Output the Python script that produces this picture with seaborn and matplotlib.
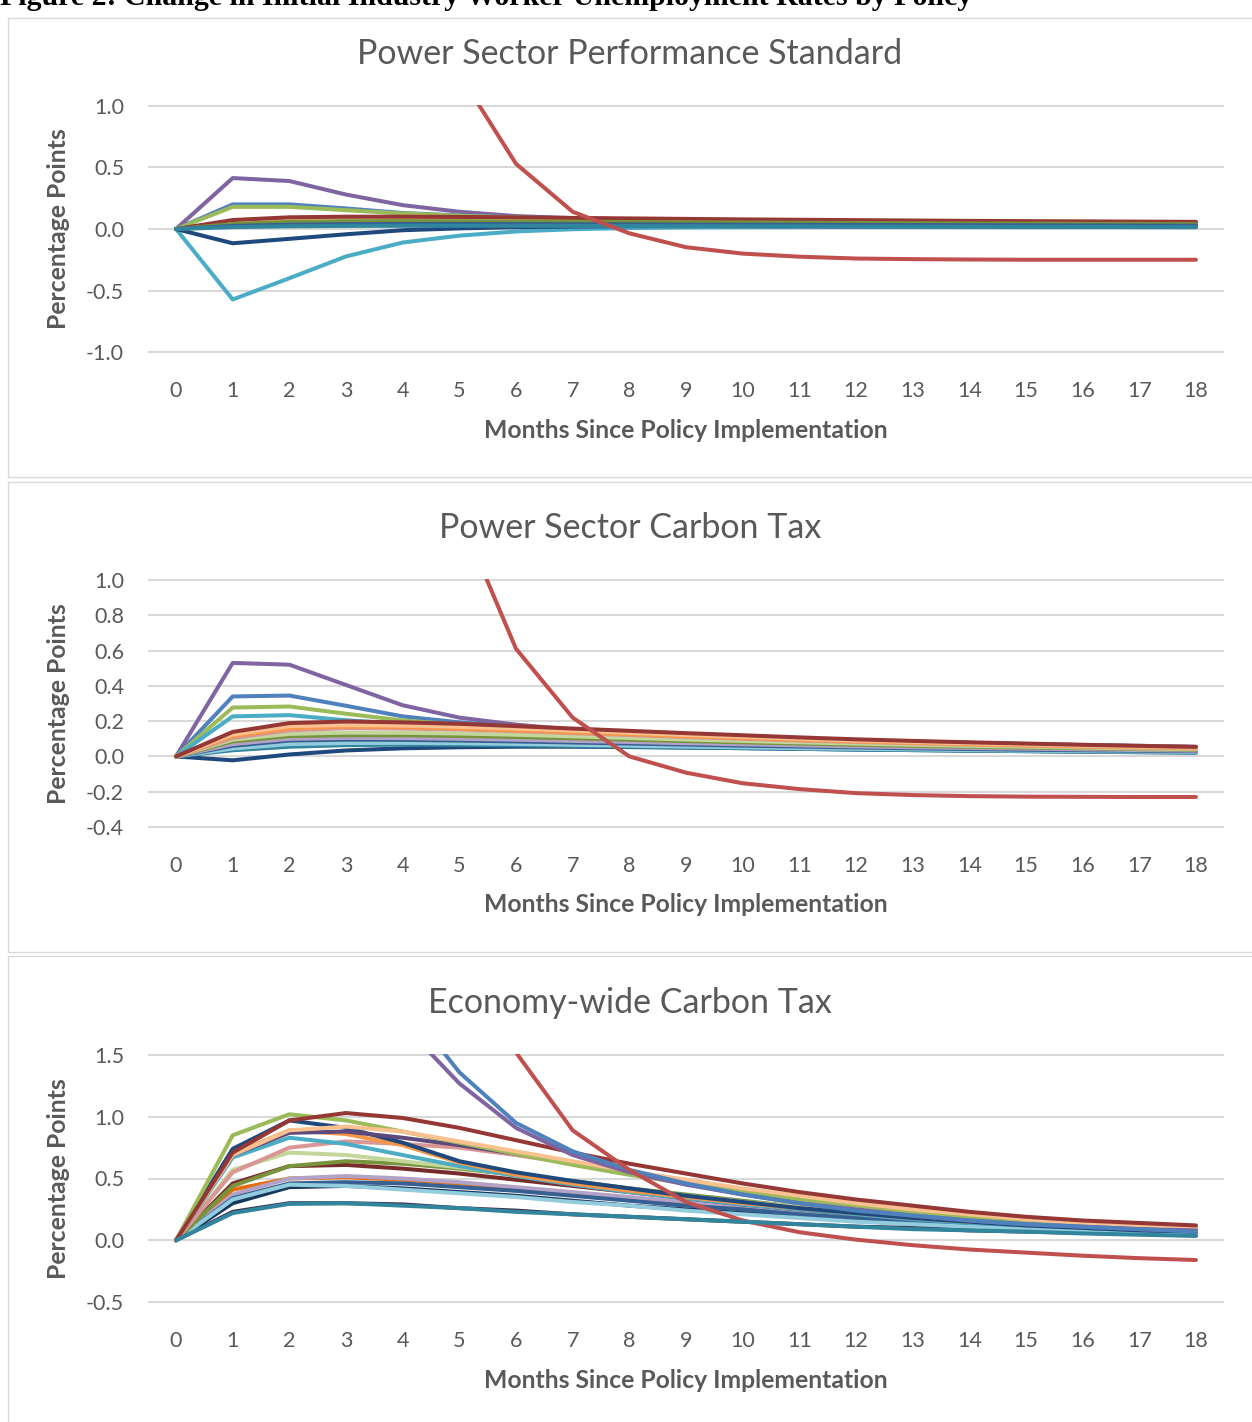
import numpy as np
import pandas as pd
import matplotlib
matplotlib.use("Agg")
import matplotlib.pyplot as plt
import seaborn as sns
from matplotlib.patches import Rectangle

nan = np.nan
months = list(range(19))
month_labels = [str(m) for m in months]

caption = "Figure 2: Change in Initial Industry Worker Unemployment Rates by Policy"
titles = ["Power Sector Performance Standard", "Power Sector Carbon Tax", "Economy-wide Carbon Tax"]
x_label = "Months Since Policy Implementation"
y_label = "Percentage Points"

# ---------------- Panel 1: Power Sector Performance Standard ----------------
pps_purple = [0, 0.414, 0.39, 0.28, 0.194, 0.14, 0.105, 0.088, 0.078, 0.072, 0.068, 0.064, 0.061, 0.058, 0.055, 0.053, 0.051, 0.049, 0.047]
pps_blue = [0, 0.20, 0.20, 0.167, 0.13, 0.11, 0.094, 0.083, 0.075, 0.069, 0.064, 0.06, 0.056, 0.053, 0.05, 0.048, 0.046, 0.044, 0.042]
pps_green = [0, 0.18, 0.18, 0.153, 0.126, 0.108, 0.094, 0.083, 0.075, 0.068, 0.063, 0.059, 0.055, 0.052, 0.049, 0.047, 0.045, 0.043, 0.041]
pps_ltorange = [0, 0.055, 0.075, 0.08, 0.08, 0.078, 0.076, 0.073, 0.07, 0.067, 0.064, 0.061, 0.058, 0.056, 0.054, 0.052, 0.05, 0.048, 0.047]
pps_olive = [0, 0.04, 0.058, 0.063, 0.064, 0.063, 0.061, 0.059, 0.057, 0.055, 0.053, 0.051, 0.049, 0.047, 0.045, 0.044, 0.042, 0.041, 0.04]
pps_blue2 = [0, 0.025, 0.035, 0.04, 0.041, 0.041, 0.04, 0.039, 0.038, 0.036, 0.035, 0.034, 0.033, 0.032, 0.031, 0.03, 0.029, 0.028, 0.027]
pps_darkred = [0, 0.073, 0.095, 0.10, 0.10, 0.098, 0.095, 0.09, 0.086, 0.082, 0.078, 0.075, 0.072, 0.069, 0.066, 0.064, 0.062, 0.06, 0.058]
pps_teal = [0, 0.015, 0.022, 0.025, 0.026, 0.026, 0.026, 0.025, 0.024, 0.023, 0.022, 0.021, 0.02, 0.019, 0.018, 0.017, 0.017, 0.016, 0.015]
pps_darkblue = [0, -0.116, -0.08, -0.043, -0.01, 0.005, 0.015, 0.02, 0.023, 0.024, 0.024, 0.024, 0.023, 0.023, 0.022, 0.022, 0.021, 0.021, 0.02]
pps_aqua = [0, -0.573, -0.40, -0.223, -0.11, -0.054, -0.02, -0.002, 0.008, 0.013, 0.015, 0.016, 0.016, 0.016, 0.016, 0.015, 0.015, 0.015, 0.015]
pps_red = [nan, nan, nan, nan, 2.5, 1.26, 0.53, 0.14, -0.035, -0.148, -0.2, -0.225, -0.24, -0.245, -0.248, -0.25, -0.25, -0.25, -0.25]

# ---------------- Panel 2: Power Sector Carbon Tax ----------------
pct_purple = [0, 0.53, 0.52, 0.405, 0.29, 0.22, 0.18, 0.152, 0.133, 0.12, 0.108, 0.098, 0.089, 0.082, 0.075, 0.07, 0.065, 0.06, 0.055]
pct_blue = [0, 0.34, 0.345, 0.287, 0.227, 0.193, 0.17, 0.152, 0.138, 0.125, 0.113, 0.102, 0.092, 0.084, 0.077, 0.07, 0.064, 0.058, 0.053]
pct_green = [0, 0.277, 0.283, 0.242, 0.204, 0.18, 0.163, 0.148, 0.135, 0.123, 0.112, 0.101, 0.092, 0.084, 0.077, 0.07, 0.064, 0.058, 0.053]
pct_aqua = [0, 0.227, 0.234, 0.205, 0.185, 0.168, 0.153, 0.14, 0.128, 0.116, 0.105, 0.095, 0.086, 0.078, 0.071, 0.064, 0.058, 0.052, 0.047]
pct_teal = [0, 0.035, 0.055, 0.064, 0.067, 0.066, 0.063, 0.059, 0.055, 0.051, 0.047, 0.043, 0.039, 0.036, 0.033, 0.03, 0.027, 0.025, 0.022]
pct_ltaqua = [0, 0.045, 0.07, 0.076, 0.077, 0.075, 0.071, 0.066, 0.061, 0.056, 0.052, 0.047, 0.043, 0.04, 0.036, 0.033, 0.03, 0.028, 0.025]
pct_blue2 = [0, 0.06, 0.09, 0.095, 0.094, 0.09, 0.085, 0.079, 0.073, 0.067, 0.061, 0.056, 0.051, 0.046, 0.042, 0.038, 0.035, 0.032, 0.029]
pct_ltpurple = [0, 0.07, 0.10, 0.105, 0.104, 0.10, 0.095, 0.088, 0.082, 0.075, 0.069, 0.063, 0.057, 0.052, 0.048, 0.044, 0.04, 0.036, 0.033]
pct_olive = [0, 0.085, 0.115, 0.12, 0.12, 0.116, 0.11, 0.103, 0.095, 0.087, 0.08, 0.073, 0.066, 0.06, 0.055, 0.05, 0.046, 0.042, 0.038]
pct_ltgreen = [0, 0.095, 0.128, 0.135, 0.134, 0.13, 0.123, 0.114, 0.105, 0.096, 0.088, 0.08, 0.073, 0.066, 0.06, 0.055, 0.05, 0.045, 0.041]
pct_pink = [0, 0.105, 0.148, 0.16, 0.158, 0.152, 0.143, 0.132, 0.121, 0.11, 0.10, 0.09, 0.082, 0.074, 0.067, 0.061, 0.055, 0.05, 0.045]
pct_orange = [0, 0.115, 0.16, 0.17, 0.166, 0.158, 0.148, 0.137, 0.126, 0.115, 0.104, 0.094, 0.085, 0.077, 0.07, 0.063, 0.057, 0.052, 0.047]
pct_ltorange = [0, 0.124, 0.172, 0.178, 0.175, 0.168, 0.158, 0.146, 0.134, 0.122, 0.111, 0.10, 0.09, 0.082, 0.074, 0.067, 0.061, 0.055, 0.05]
pct_darkred = [0, 0.139, 0.189, 0.198, 0.193, 0.185, 0.172, 0.158, 0.145, 0.132, 0.12, 0.108, 0.097, 0.088, 0.08, 0.073, 0.066, 0.06, 0.054]
pct_darkblue = [0, -0.022, 0.011, 0.034, 0.046, 0.052, 0.055, 0.055, 0.053, 0.05, 0.047, 0.043, 0.039, 0.036, 0.033, 0.03, 0.027, 0.024, 0.022]
pct_red = [nan, nan, nan, nan, 2.6, 1.37, 0.61, 0.22, 0.0, -0.092, -0.152, -0.185, -0.208, -0.219, -0.225, -0.228, -0.229, -0.23, -0.23]

# ---------------- Panel 3: Economy-wide Carbon Tax ----------------
ect_purple2 = [0, 0.23, 0.30, 0.30, 0.29, 0.26, 0.24, 0.21, 0.19, 0.17, 0.15, 0.13, 0.11, 0.10, 0.08, 0.07, 0.06, 0.05, 0.04]
ect_teal = [0, 0.22, 0.295, 0.30, 0.28, 0.26, 0.23, 0.21, 0.19, 0.17, 0.15, 0.13, 0.11, 0.09, 0.08, 0.07, 0.055, 0.045, 0.035]
ect_darkblue2 = [0, 0.30, 0.43, 0.44, 0.42, 0.39, 0.36, 0.32, 0.28, 0.25, 0.22, 0.19, 0.16, 0.13, 0.11, 0.09, 0.08, 0.06, 0.05]
ect_ltaqua = [0, 0.33, 0.45, 0.44, 0.41, 0.38, 0.35, 0.31, 0.28, 0.24, 0.21, 0.18, 0.15, 0.13, 0.11, 0.09, 0.08, 0.06, 0.05]
ect_blue2 = [0, 0.34, 0.46, 0.47, 0.46, 0.43, 0.40, 0.36, 0.32, 0.28, 0.25, 0.21, 0.18, 0.15, 0.13, 0.11, 0.09, 0.07, 0.06]
ect_ltpurple = [0, 0.37, 0.50, 0.52, 0.50, 0.47, 0.43, 0.39, 0.35, 0.31, 0.27, 0.23, 0.19, 0.16, 0.14, 0.12, 0.10, 0.08, 0.07]
ect_dkorange = [0, 0.41, 0.50, 0.51, 0.49, 0.46, 0.42, 0.38, 0.33, 0.29, 0.25, 0.21, 0.18, 0.15, 0.13, 0.11, 0.09, 0.08, 0.07]
ect_darkred2 = [0, 0.46, 0.60, 0.61, 0.58, 0.54, 0.49, 0.44, 0.39, 0.34, 0.29, 0.25, 0.21, 0.18, 0.15, 0.13, 0.11, 0.09, 0.08]
ect_olive = [0, 0.44, 0.60, 0.64, 0.62, 0.58, 0.53, 0.48, 0.42, 0.37, 0.32, 0.27, 0.23, 0.19, 0.16, 0.14, 0.12, 0.10, 0.09]
ect_ltgreen = [0, 0.57, 0.71, 0.69, 0.64, 0.59, 0.53, 0.47, 0.41, 0.36, 0.31, 0.27, 0.23, 0.19, 0.16, 0.13, 0.11, 0.10, 0.09]
ect_pink = [0, 0.55, 0.75, 0.80, 0.78, 0.75, 0.69, 0.62, 0.55, 0.48, 0.41, 0.35, 0.29, 0.24, 0.20, 0.17, 0.14, 0.12, 0.10]
ect_aqua = [0, 0.67, 0.83, 0.78, 0.69, 0.60, 0.52, 0.45, 0.39, 0.34, 0.29, 0.25, 0.21, 0.17, 0.14, 0.12, 0.10, 0.08, 0.07]
ect_orange = [0, 0.70, 0.89, 0.86, 0.77, 0.63, 0.53, 0.46, 0.40, 0.35, 0.30, 0.26, 0.22, 0.18, 0.15, 0.13, 0.11, 0.09, 0.08]
ect_darkblue = [0, 0.74, 0.97, 0.91, 0.79, 0.64, 0.55, 0.48, 0.42, 0.36, 0.31, 0.26, 0.22, 0.18, 0.15, 0.12, 0.10, 0.08, 0.07]
ect_darkpurple = [0, 0.69, 0.87, 0.88, 0.83, 0.77, 0.70, 0.62, 0.55, 0.48, 0.41, 0.35, 0.29, 0.24, 0.20, 0.17, 0.14, 0.12, 0.10]
ect_green = [0, 0.85, 1.02, 0.97, 0.88, 0.79, 0.70, 0.61, 0.53, 0.46, 0.39, 0.33, 0.28, 0.23, 0.19, 0.16, 0.13, 0.11, 0.09]
ect_ltorange = [0, 0.69, 0.89, 0.92, 0.88, 0.80, 0.72, 0.64, 0.56, 0.49, 0.42, 0.36, 0.30, 0.25, 0.21, 0.17, 0.14, 0.12, 0.107]
ect_darkred = [0, 0.71, 0.97, 1.03, 0.99, 0.91, 0.81, 0.71, 0.62, 0.54, 0.46, 0.39, 0.33, 0.28, 0.23, 0.19, 0.16, 0.14, 0.12]
ect_purple = [nan, nan, nan, nan, 1.75, 1.27, 0.91, 0.69, 0.55, 0.45, 0.37, 0.30, 0.25, 0.20, 0.16, 0.13, 0.11, 0.09, 0.08]
ect_blue = [nan, nan, nan, nan, 1.94, 1.36, 0.95, 0.72, 0.57, 0.46, 0.37, 0.30, 0.24, 0.20, 0.16, 0.13, 0.11, 0.09, 0.07]
ect_red = [nan, nan, nan, nan, nan, 3.0, 1.52, 0.89, 0.57, 0.31, 0.16, 0.065, 0.005, -0.04, -0.075, -0.10, -0.125, -0.145, -0.16]

# axis ticks per panel
p1_yticks = [-1.0, -0.5, 0.0, 0.5, 1.0]
p2_yticks = [-0.4, -0.2, 0.0, 0.2, 0.4, 0.6, 0.8, 1.0]
p3_yticks = [-0.5, 0.0, 0.5, 1.0, 1.5]

# colours (Excel palette)
C = {
    "purple": "#8064A2", "blue": "#4F81BD", "green": "#9BBB59", "red": "#C0504D",
    "aqua": "#4BACC6", "orange": "#F79646", "darkred": "#953735", "darkblue": "#1F497D",
    "ltorange": "#FAC090", "olive": "#77933C", "blue2": "#376092", "teal": "#31859C",
    "pink": "#D99694", "ltgreen": "#C3D69B", "ltpurple": "#B3A2C7", "ltaqua": "#93CDDD",
    "darkpurple": "#5F497A", "dkorange": "#E46C0A", "darkred2": "#772C2A",
    "darkblue2": "#17375E", "purple2": "#403152",
}

panel1 = [("aqua", pps_aqua), ("darkblue", pps_darkblue), ("purple", pps_purple), ("blue", pps_blue),
          ("green", pps_green), ("ltorange", pps_ltorange), ("darkred", pps_darkred), ("olive", pps_olive),
          ("blue2", pps_blue2), ("teal", pps_teal), ("red", pps_red)]
panel2 = [("purple", pct_purple), ("blue", pct_blue), ("green", pct_green), ("aqua", pct_aqua),
          ("darkblue", pct_darkblue), ("teal", pct_teal), ("ltaqua", pct_ltaqua), ("blue2", pct_blue2),
          ("ltpurple", pct_ltpurple), ("olive", pct_olive), ("ltgreen", pct_ltgreen), ("pink", pct_pink),
          ("orange", pct_orange), ("ltorange", pct_ltorange), ("darkred", pct_darkred), ("red", pct_red)]
panel3 = [("dkorange", ect_dkorange), ("purple2", ect_purple2), ("darkblue2", ect_darkblue2),
          ("ltpurple", ect_ltpurple), ("blue2", ect_blue2), ("ltaqua", ect_ltaqua), ("darkred2", ect_darkred2),
          ("olive", ect_olive), ("ltgreen", ect_ltgreen), ("pink", ect_pink), ("aqua", ect_aqua),
          ("orange", ect_orange), ("darkblue", ect_darkblue), ("darkpurple", ect_darkpurple),
          ("green", ect_green), ("ltorange", ect_ltorange), ("darkred", ect_darkred),
          ("purple", ect_purple), ("blue", ect_blue), ("red", ect_red), ("teal", ect_teal)]


def to_frame(series):
    rows = []
    for name, vals in series:
        for m, v in zip(months, vals):
            rows.append({"series": name, "month": m, "value": v})
    return pd.DataFrame(rows)


sns.set_theme(style="white")
plt.rcParams["font.family"] = ["Lato", "DejaVu Sans"]
plt.rcParams["axes.unicode_minus"] = False

W, H = 1252, 1422
fig = plt.figure(figsize=(W / 100, H / 100), dpi=100)
fig.patch.set_facecolor("white")

def fx(px):
    return px / W

def fy(py):
    return 1 - py / H

TXT = "#595959"
GRID = "#D9D9D9"

layout = [
    dict(series=panel1, title=titles[0], yticks=p1_yticks, box=(18, 477), title_y=54, ax=(105, 353), xl_y=430),
    dict(series=panel2, title=titles[1], yticks=p2_yticks, box=(482, 952), title_y=528, ax=(579, 828), xl_y=905),
    dict(series=panel3, title=titles[2], yticks=p3_yticks, box=(956, 1430), title_y=1003, ax=(1054, 1303), xl_y=1380),
]

ax_left, ax_right = 147.7, 1224.3

# caption (clipped at top of page, as in the source page)
fig.text(fx(0), fy(5), caption, ha="left", va="baseline", fontsize=21.5, fontweight="bold",
         family=["Liberation Serif", "DejaVu Serif"], color="black")

for p in layout:
    bt, bb = p["box"]
    fig.patches.append(Rectangle((fx(8), fy(bb)), fx(1260 - 8), (bb - bt) / H, transform=fig.transFigure,
                                 facecolor="none", edgecolor=GRID, linewidth=1.0))
    at, ab = p["ax"]
    ax = fig.add_axes([fx(ax_left), fy(ab), fx(ax_right - ax_left), (ab - at) / H])
    df = to_frame(p["series"])
    order = [n for n, _ in p["series"]]
    pal = {n: C[n] for n in order}
    sns.lineplot(data=df, x="month", y="value", hue="series", hue_order=order, palette=pal,
                 estimator=None, legend=False, linewidth=2.9, ax=ax)
    for ln in ax.get_lines():
        ln.set_solid_joinstyle("round")
        ln.set_solid_capstyle("round")
    yt = p["yticks"]
    span = yt[-1] - yt[0]
    ax.set_ylim(yt[0] - span * 0.004, yt[-1] + span * 0.004)
    ax.set_xlim(-0.5, 18.5)
    ax.set_yticks(yt)
    ax.set_yticklabels([f"{v:.1f}" for v in yt])
    ax.set_xticks(months)
    ax.set_xticklabels(month_labels)
    ax.set_xlabel("")
    ax.set_ylabel("")
    ax.grid(False)
    ax.yaxis.grid(True, color=GRID, linewidth=1.5)
    ax.set_axisbelow(True)
    for s in ax.spines.values():
        s.set_visible(False)
    ax.tick_params(axis="y", length=0, pad=17, labelsize=15.5, labelcolor=TXT)
    ax.tick_params(axis="x", length=0, pad=20, labelsize=15.5, labelcolor=TXT)
    ax.set_facecolor("none")

    fig.text(fx(630), fy(p["title_y"]), p["title"], ha="center", va="center", fontsize=24.5, color=TXT)
    fig.text(fx((ax_left + ax_right) / 2), fy(p["xl_y"]), x_label, ha="center", va="center",
             fontsize=17.8, fontweight="bold", color=TXT)
    fig.text(fx(58), fy((at + ab) / 2), y_label, ha="center", va="center", rotation=90,
             fontsize=17.8, fontweight="bold", color=TXT)

fig.savefig("out.png", dpi=100, facecolor="white")
